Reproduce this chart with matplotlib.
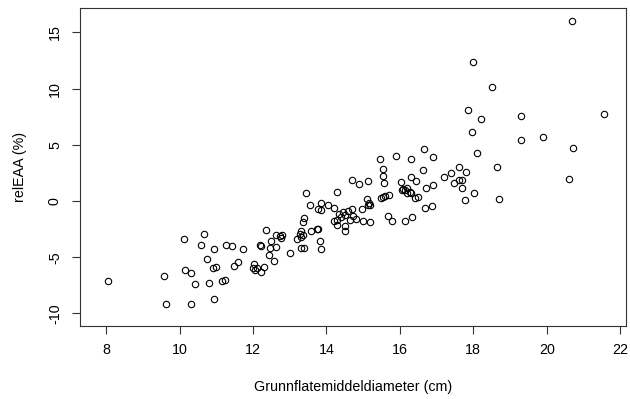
import numpy as np
import matplotlib
matplotlib.use('Agg')
from matplotlib import pyplot as plt

plt.rcParams['font.family'] = ['Liberation Sans', 'DejaVu Sans']

# diameter (cm)
diam = [8.05, 9.59, 9.62, 10.12, 10.66, 10.59, 10.94, 10.75, 10.14, 10.30,
        10.42, 10.30, 10.80, 10.94, 10.92, 10.99, 11.16, 11.24, 11.27, 11.43,
        11.72, 11.60, 11.48, 12.20, 12.22, 12.35, 12.03, 12.00, 12.06, 12.12,
        12.22, 12.29, 12.45, 12.58, 12.50, 12.47, 12.64, 12.73, 12.80, 12.77,
        12.63, 13.00, 13.20, 13.30, 13.30, 13.27, 13.36, 13.30, 13.38, 13.35,
        13.44, 13.55, 13.78, 13.84, 13.84, 14.05, 14.22, 13.58, 13.74, 13.78,
        13.83, 13.84, 13.40, 14.30, 14.70, 14.90, 15.14, 15.55, 15.57, 14.22,
        14.30, 14.28, 14.34, 14.40, 14.45, 14.50, 14.52, 14.50, 14.60, 14.70,
        14.73, 14.82, 14.64, 14.96, 15.00, 15.20, 15.10, 15.16, 15.20, 15.14,
        15.50, 15.55, 15.60, 15.70, 15.67, 15.80, 15.47, 15.55,
        15.90, 16.30, 16.65, 16.90, 16.63, 16.30, 16.45, 16.03, 16.10, 16.15,
        16.20, 16.27, 16.30, 16.20, 16.05, 16.40, 16.50, 16.70, 16.90, 16.68,
        16.88, 16.33, 16.14, 17.20, 17.40, 17.60, 17.47, 17.60, 17.70, 17.70,
        17.80, 17.78, 18.03, 17.96, 18.10,
        20.69, 18.00, 18.50, 17.85, 18.20, 19.30, 21.57, 19.30, 19.90, 20.73,
        18.65, 20.60, 18.70]

# relEAA (%)
releaa = [-7.1, -6.7, -9.2, -3.4, -2.9, -3.9, -4.3, -5.2, -6.1, -6.4,
          -7.4, -9.2, -7.3, -8.7, -6.0, -5.9, -7.1, -7.0, -3.9, -4.0,
          -4.3, -5.4, -5.8, -3.9, -4.0, -2.6, -5.6, -6.0, -6.1, -6.0,
          -6.3, -5.9, -4.8, -5.3, -3.6, -4.2, -3.0, -3.1, -3.0, -3.3,
          -4.1, -4.6, -3.4, -2.7, -4.2, -2.9, -3.0, -3.2, -1.5, -1.9,
          0.7, -0.4, -0.7, -0.2, -0.8, -0.4, -0.6, -2.7, -2.5, -2.5,
          -3.6, -4.3, -4.2, 0.8, 1.9, 1.5, 1.8, 2.25, 1.6, -1.8,
          -1.7, -2.1, -1.2, -1.4, -1.0, -1.25, -2.2, -2.7, -0.9, -0.7,
          -1.3, -1.6, -1.7, -0.7, -1.8, -1.9, 0.2, -0.15, -0.4, -0.4,
          0.25, 0.4, 0.45, 0.5, -1.3, -1.75, 3.7, 2.85,
          4.0, 3.7, 4.6, 3.9, 2.75, 2.1, 1.8, 1.7, 1.1, 1.0,
          1.2, 0.8, 0.7, 0.7, 1.0, 0.3, 0.4, 1.2, 1.4, -0.6,
          -0.45, -1.4, -1.75, 2.1, 2.5, 3.05, 1.6, 1.9, 1.9, 1.2,
          2.6, 0.06, 0.7, 6.1, 4.3,
          16.0, 12.4, 10.1, 8.1, 7.3, 7.6, 7.7, 5.4, 5.65, 4.7,
          3.0, 2.0, 0.15]

xticks = [8, 10, 12, 14, 16, 18, 20, 22]
yticks = [-10, -5, 0, 5, 10, 15]

fig = plt.figure(figsize=(6.3, 3.99), dpi=100)
ax = fig.add_axes([80/630, 73/399, 546/630, 318/399])

ax.plot(diam, releaa, 'o', ms=4.6, mfc='none', mec='black', mew=0.8)

ax.set_xlim(7.29, 22.16)
ax.set_ylim(-11.12, 17.17)
ax.set_xticks(xticks)
ax.set_yticks(yticks)
ax.set_yticklabels([str(t) for t in yticks], rotation=90, va='center')
ax.tick_params(direction='out', length=6, width=0.8, labelsize=10.3,
               color='#333333')
ax.tick_params(axis='x', pad=6)
ax.tick_params(axis='y', pad=7)
for s in ax.spines.values():
    s.set_color('#333333')
    s.set_linewidth(0.8)

ax.set_xlabel('Grunnflatemiddeldiameter (cm)', fontsize=10.3, labelpad=17)
ax.set_ylabel('relEAA (%)', fontsize=10.3, labelpad=15)

fig.savefig('out.png', dpi=100)
